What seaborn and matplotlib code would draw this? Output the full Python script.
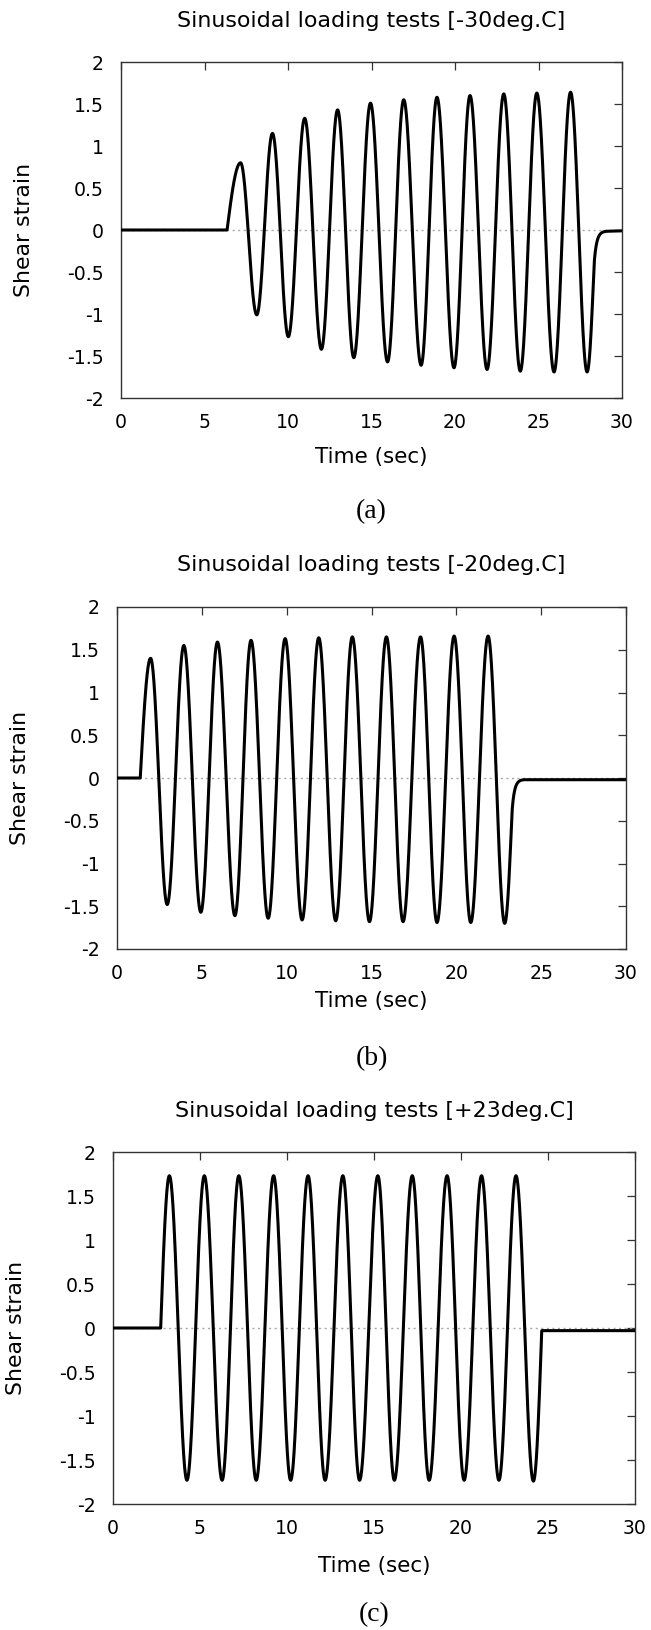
import numpy as np
import pandas as pd
import matplotlib
matplotlib.use("Agg")
import matplotlib.pyplot as plt
import seaborn as sns

# ---- measured shear-strain histories (turning points of each record) ----
# times (s) and strain values at the start of loading, every peak/trough,
# and the settling points after unloading
t_minus30 = [0, 6.35, 7.16, 8.13, 9.07, 10.02, 11.00, 12.00, 12.97, 13.94,
             14.94, 15.96, 16.93, 17.97, 18.92, 19.94, 20.90, 21.92, 22.92,
             23.91, 24.90, 25.93, 26.92, 27.91, 28.33, 29.10, 30.0]
g_minus30 = [0, 0, 0.80, -1.01, 1.15, -1.27, 1.33, -1.42, 1.43, -1.52,
             1.51, -1.57, 1.55, -1.61, 1.58, -1.64, 1.60, -1.66, 1.62,
             -1.68, 1.63, -1.69, 1.64, -1.69, -0.40, -0.015, -0.01]
form_minus30 = "lr" + "c" * 21 + "fel"

t_minus20 = [0, 1.37, 1.98, 2.96, 3.94, 4.94, 5.92, 6.95, 7.90, 8.91,
             9.91, 10.91, 11.89, 12.89, 13.87, 14.88, 15.88, 16.86, 17.89,
             18.86, 19.87, 20.85, 21.87, 22.85, 23.28, 24.00, 30.0]
g_minus20 = [0, 0, 1.40, -1.48, 1.55, -1.57, 1.59, -1.61, 1.61, -1.64,
             1.63, -1.66, 1.64, -1.67, 1.65, -1.68, 1.65, -1.68, 1.65,
             -1.69, 1.66, -1.69, 1.66, -1.70, -0.40, -0.02, -0.02]
form_minus20 = "lr" + "c" * 21 + "fel"

t_plus23 = [0, 2.74, 3.24, 4.25, 5.25, 6.27, 7.23, 8.23, 9.23, 10.21,
            11.21, 12.19, 13.21, 14.17, 15.22, 16.17, 17.20, 18.17, 19.20,
            20.18, 21.18, 22.18, 23.16, 24.16, 24.64, 30.0]
g_plus23 = [0, 0, 1.73, -1.73, 1.73, -1.73, 1.73, -1.73, 1.73, -1.73,
            1.73, -1.73, 1.73, -1.73, 1.73, -1.73, 1.73, -1.73, 1.73,
            -1.73, 1.73, -1.73, 1.73, -1.74, -0.03, -0.03]
form_plus23 = "lr" + "c" * 21 + "fl"

titles = ["Sinusoidal loading tests [-30deg.C]",
          "Sinusoidal loading tests [-20deg.C]",
          "Sinusoidal loading tests [+23deg.C]"]
captions = ["(a)", "(b)", "(c)"]
x_ticks = [0, 5, 10, 15, 20, 25, 30]
y_ticks = [-2, -1.5, -1, -0.5, 0, 0.5, 1, 1.5, 2]


def strain_history(times, values, forms, n=80):
    """Join the turning points with sinusoidal half/quarter waves."""
    ts, ys = [], []
    for i, f in enumerate(forms):
        t0, t1 = times[i], times[i + 1]
        y0, y1 = values[i], values[i + 1]
        s = np.linspace(0.0, 1.0, n, endpoint=(i == len(forms) - 1))
        if f == "c":      # half wave between a peak and a trough
            w = (1 - np.cos(np.pi * s)) / 2
        elif f == "r":    # quarter wave leaving the rest position
            w = np.sin(np.pi / 2 * s)
        elif f == "f":    # quarter wave heading back to rest
            w = 1 - np.cos(np.pi / 2 * s)
        elif f == "e":    # relaxation after unloading
            w = (1 - np.exp(-5 * s)) / (1 - np.exp(-5))
        else:
            w = s
        ts.append(t0 + (t1 - t0) * s)
        ys.append(y0 + (y1 - y0) * w)
    return pd.DataFrame({"Time": np.concatenate(ts),
                         "Strain": np.concatenate(ys)})


records = [
    strain_history(t_minus30, g_minus30, form_minus30),
    strain_history(t_minus20, g_minus20, form_minus20),
    strain_history(t_plus23, g_plus23, form_plus23),
]

sns.set_style("white")
plt.rcParams["font.family"] = ["DejaVu Sans"]
plt.rcParams["axes.unicode_minus"] = False
for key in ("text.color", "axes.labelcolor", "xtick.color", "ytick.color"):
    plt.rcParams[key] = "black"

W, H = 651, 1630
fig = plt.figure(figsize=(W / 100, H / 100), dpi=100)

# axes frames in pixels: left, right, top, bottom
frames = [(121, 622, 62, 398), (117, 626, 607, 949), (113, 635, 1152, 1504)]
title_y = [21, 565, 1111]
xlabel_y = [457, 1001, 1566]
caption_y = [512, 1059, 1615]

for k, (df, (l, r, tp, bt)) in enumerate(zip(records, frames)):
    ax = fig.add_axes([l / W, 1 - bt / H, (r - l) / W, (bt - tp) / H])
    ax.axhline(0, color="#a8a8a8", lw=1.0, ls=(0, (1.5, 2.5)), zorder=1)
    sns.lineplot(data=df, x="Time", y="Strain", ax=ax, color="black",
                 lw=2.2, estimator=None, sort=False, zorder=3)
    ax.set_xlim(0, 30)
    ax.set_ylim(-2, 2)
    ax.set_xticks(x_ticks)
    ax.set_yticks(y_ticks)
    ax.set_xticklabels([f"{v:g}" for v in x_ticks])
    ax.set_yticklabels([f"{v:g}" for v in y_ticks])
    ax.tick_params(direction="in", length=6, width=0.9, color="#333333",
                   top=True, right=True, labelsize=13.6, pad=12.5,
                   labelcolor="black")
    ax.tick_params(axis="x", pad=11)
    for sp in ax.spines.values():
        sp.set_visible(True)
        sp.set_color("#333333")
        sp.set_linewidth(1.0)

    cx = (l + r) / 2
    ax.set_xlabel("Time (sec)", fontsize=15.5, va="center", ha="center")
    ax.xaxis.set_label_coords(0.5, -(xlabel_y[k] - bt) / (bt - tp))
    ax.set_ylabel("Shear strain", fontsize=15.8, va="center", ha="center")
    ax.yaxis.set_label_coords(-97 / (r - l), 0.5)
    fig.text(cx / W, 1 - title_y[k] / H, titles[k], fontsize=15.9,
             ha="center", va="center")
    fig.text(cx / W, 1 - caption_y[k] / H, captions[k], fontsize=20,
             ha="center", va="center",
             family=["Liberation Serif", "DejaVu Serif"])

fig.savefig("out.png", dpi=100, facecolor="white")
